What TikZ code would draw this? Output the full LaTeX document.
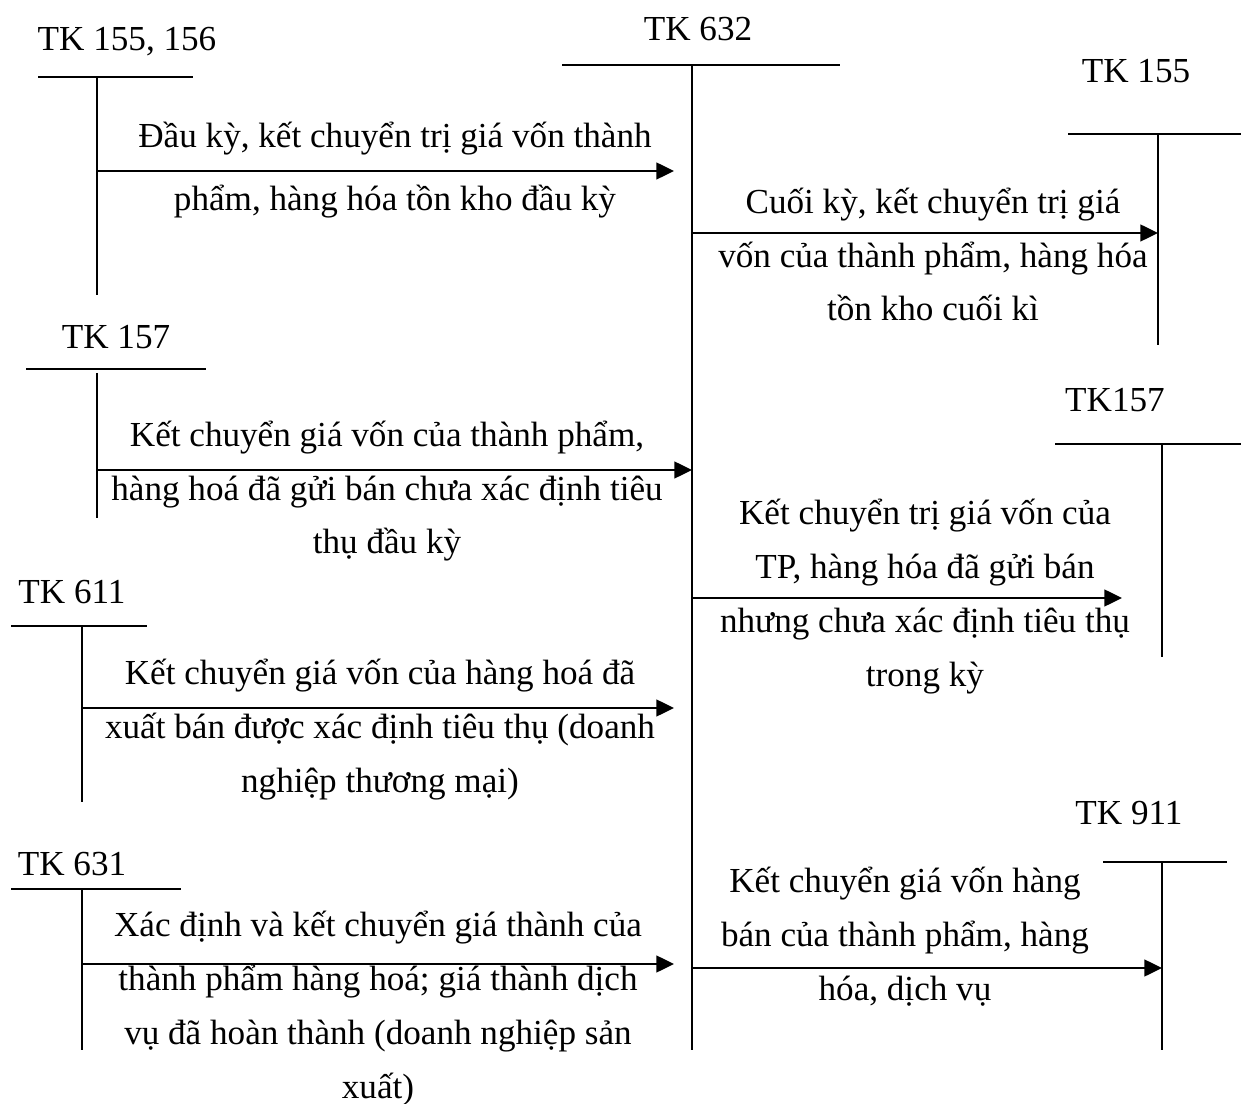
\documentclass[tikz,border=0pt]{standalone}
\usepackage{fontspec}
\setmainfont{Liberation Serif}
\usetikzlibrary{arrows.meta}
\begin{document}
\begin{tikzpicture}[x=0.02cm,y=-0.02cm,
  rule/.style={line width=1.2pt},
  flow/.style={line width=1.2pt,-{Triangle[length=10pt,width=9.5pt]}},
  acct/.style={anchor=base,inner sep=0pt,font=\fontsize{20}{30.7}\selectfont},
  note/.style={anchor=base,inner sep=0pt,align=center,font=\fontsize{20}{30.7}\selectfont}]
\useasboundingbox (0,0) rectangle (1241,1104);

% account titles
\node[acct] (t155156) at (127,51) {TK 155, 156};
\node[acct] (t632)    at (698,41) {TK 632};
\node[acct] (t155)    at (1136,83) {TK 155};
\node[acct] (t157l)   at (116,349) {TK 157};
\node[acct] (t157r)   at (1115,412) {TK157};
\node[acct] (t611)    at (72,603) {TK 611};
\node[acct] (t631)    at (72,875) {TK 631};
\node[acct] (t911)    at (1129,824) {TK 911};

% T-account rules
\draw[rule] (38,77) -- (193,77);    \draw[rule] (97,77) -- (97,295);
\draw[rule] (562,65) -- (840,65);   \draw[rule] (692,65) -- (692,1050);
\draw[rule] (1068,134) -- (1241,134); \draw[rule] (1158,134) -- (1158,345);
\draw[rule] (26,369) -- (206,369);  \draw[rule] (97,373) -- (97,518);
\draw[rule] (1055,444) -- (1241,444); \draw[rule] (1162,444) -- (1162,657);
\draw[rule] (11,626) -- (147,626);  \draw[rule] (82,626) -- (82,802);
\draw[rule] (11,889) -- (181,889);  \draw[rule] (82,889) -- (82,1050);
\draw[rule] (1103,862) -- (1227,862); \draw[rule] (1162,862) -- (1162,1050);

% connector ends on the account stems
\coordinate (s1) at (97,171);   \coordinate (e1) at (674,171);
\coordinate (s2) at (692,233);  \coordinate (e2) at (1158,233);
\coordinate (s3) at (97,470);   \coordinate (e3) at (692,470);
\coordinate (s4) at (692,598);  \coordinate (e4) at (1122,598);
\coordinate (s5) at (82,708);   \coordinate (e5) at (674,708);
\coordinate (s6) at (82,964);   \coordinate (e6) at (674,964);
\coordinate (s7) at (692,968);  \coordinate (e7) at (1162,968);

\draw[flow] (s1) -- (e1);
\draw[flow] (s2) -- (e2);
\draw[flow] (s3) -- (e3);
\draw[flow] (s4) -- (e4);
\draw[flow] (s5) -- (e5);
\draw[flow] (s6) -- (e6);
\draw[flow] (s7) -- (e7);

% entry descriptions (placed by the baseline of their last line)
\node[note] (n1) at (395,211) {Đầu kỳ, kết chuyển trị giá vốn thành\\[5.2pt]phẩm, hàng hóa tồn kho đầu kỳ};
\node[note] (n2) at (933,321) {Cuối kỳ, kết chuyển trị giá\\vốn của thành phẩm, hàng hóa\\tồn kho cuối kì};
\node[note] (n3) at (387,554) {Kết chuyển giá vốn của thành phẩm,\\hàng hoá đã gửi bán chưa xác định tiêu\\thụ đầu kỳ};
\node[note] (n4) at (925,686) {Kết chuyển trị giá vốn của\\TP, hàng hóa đã gửi bán\\nhưng chưa xác định tiêu thụ\\trong kỳ};
\node[note] (n5) at (380,792) {Kết chuyển giá vốn của hàng hoá đã\\xuất bán được xác định tiêu thụ (doanh\\nghiệp thương mại)};
\node[note] (n6) at (378,1098) {Xác định và kết chuyển giá thành của\\thành phẩm hàng hoá; giá thành dịch\\vụ đã hoàn thành (doanh nghiệp sản\\xuất)};
\node[note] (n7) at (905,1000) {Kết chuyển giá vốn hàng\\bán của thành phẩm, hàng\\hóa, dịch vụ};
\end{tikzpicture}
\end{document}
